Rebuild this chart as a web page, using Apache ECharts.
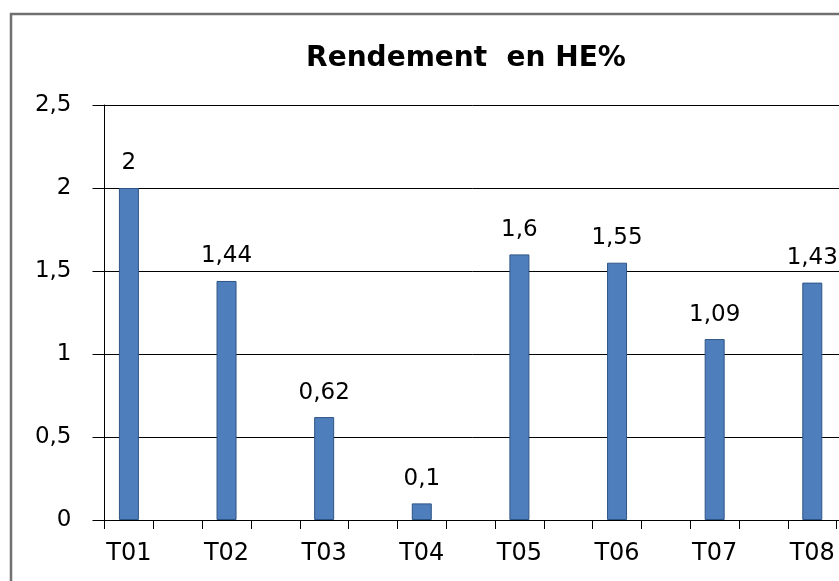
<!DOCTYPE html>
<html>
<head>
<meta charset="utf-8">
<script src="https://cdn.jsdelivr.net/npm/echarts@6/dist/echarts.min.js"></script>
<style>
  html, body { margin: 0; padding: 0; background: #fff; }
  #chart { width: 839px; height: 581px; }
</style>
</head>
<body>
<div id="chart"></div>
<script>
var categories = ['T01', 'T02', 'T03', 'T04', 'T05', 'T06', 'T07', 'T08'];
var values = [2, 1.44, 0.62, 0.1, 1.6, 1.55, 1.09, 1.43];
var yTicks = { min: 0, max: 2.5, interval: 0.5 };
var titleText = 'Rendement  en HE%';

// each category takes two slots, the bar sits in the first one (like the excel original)
var slots = [];
var slotValues = [];
for (var i = 0; i < categories.length; i++) {
    slots.push(categories[i], categories[i] + '_');
    slotValues.push(values[i], '-');
}

function comma(v) {
    return String(v).replace('.', ',');
}

var font = 'DejaVu Sans';
var myChart = echarts.init(document.getElementById('chart'), null, { renderer: 'canvas' });

var option = {
    animation: false,
    title: {
        text: titleText,
        left: 461,
        top: 40,
        textAlign: 'center',
        textStyle: { fontFamily: font, fontSize: 28, fontWeight: 'bold', color: '#000' }
    },
    graphic: [{
        type: 'rect',
        shape: { x: 11, y: 14, width: 1000, height: 1000 },
        style: { fill: 'none', stroke: '#707070', lineWidth: 2.5 }
    }],
    grid: { left: 104.5, top: 105, width: 781, bottom: 61, outerBoundsMode: 'none', containLabel: false },
    xAxis: {
        type: 'category',
        data: slots,
        axisLine: { lineStyle: { color: '#000', width: 1 } },
        axisTick: { show: true, interval: 0, alignWithLabel: false, length: 9, lineStyle: { color: '#000' } },
        axisLabel: {
            interval: 0,
            margin: 22,
            fontFamily: font,
            fontSize: 24,
            color: '#000',
            formatter: function (v, idx) { return idx % 2 === 0 ? v : ''; }
        },
        splitLine: { show: false }
    },
    yAxis: {
        type: 'value',
        min: yTicks.min,
        max: yTicks.max,
        interval: yTicks.interval,
        axisLine: { show: true, lineStyle: { color: '#000', width: 1 } },
        axisTick: { show: true, length: 12, lineStyle: { color: '#000' } },
        axisLabel: {
            margin: 33,
            fontFamily: font,
            fontSize: 23,
            color: '#000',
            formatter: comma
        },
        splitLine: { lineStyle: { color: '#000', width: 1 } }
    },
    series: [{
        type: 'bar',
        data: slotValues,
        barWidth: 20,
        itemStyle: { color: '#4f7ebc', borderColor: '#2f5586', borderWidth: 1 },
        label: {
            show: true,
            position: 'top',
            distance: 13,
            fontFamily: font,
            fontSize: 23,
            color: '#000',
            formatter: function (p) { return comma(p.value); }
        }
    }]
};

myChart.setOption(option);
</script>
</body>
</html>
